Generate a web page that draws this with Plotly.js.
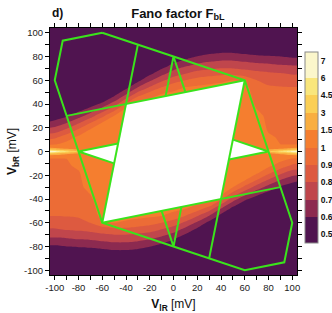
<!DOCTYPE html>
<html>
<head>
<meta charset="utf-8">
<script src="https://cdn.plot.ly/plotly-3.0.1.min.js"></script>
<style>html,body{margin:0;padding:0;background:#fff;}#chart{width:332px;height:313px;}</style>
</head>
<body>
<div id="chart"></div>
<script>
// Grid of bias voltages (mV)
var vlR = [-104,-100,-90,-80,-70,-60,-50,-40,-30,-20,-10,0,10,20,30,40,50,60,70,80,90,100,104];
var vbR = [-104,-84,-78,-72,-66,-60,-54,-48,-42,-36,-30,-24,-18,-12,-6,-3,-1.5,0,1.5,3,6,12,18,24,30,36,42,48,54,60,66,72,78,84,104];

// Fano factor F_bL (rows follow vbR, columns follow vlR)
var fano = [
 [0.52,0.52,0.52,0.52,0.52,0.52,0.52,0.52,0.52,0.52,0.52,0.52,0.52,0.52,0.52,0.52,0.52,0.52,0.52,0.52,0.52,0.52,0.52],
 [0.525,0.525,0.54,0.548,0.555,0.57,0.585,0.585,0.57,0.54,0.52,0.52,0.52,0.52,0.52,0.52,0.52,0.52,0.52,0.52,0.52,0.52,0.52],
 [0.615,0.615,0.629,0.638,0.646,0.662,0.677,0.677,0.662,0.633,0.593,0.54,0.52,0.52,0.52,0.52,0.52,0.52,0.52,0.52,0.52,0.52,0.52],
 [0.707,0.707,0.714,0.729,0.738,0.754,0.769,0.769,0.754,0.733,0.692,0.636,0.555,0.52,0.52,0.52,0.52,0.52,0.52,0.52,0.52,0.52,0.52],
 [0.787,0.787,0.801,0.811,0.825,0.846,0.862,0.867,0.85,0.833,0.792,0.745,0.66,0.57,0.52,0.52,0.52,0.52,0.52,0.52,0.52,0.52,0.52],
 [0.85,0.85,0.863,0.878,0.901,0.971,1.005,0.98,0.96,0.936,0.901,0.855,0.78,0.68,0.57,0.52,0.52,0.52,0.52,0.52,0.52,0.52,0.52],
 [0.902,0.902,0.905,0.909,0.925,1.2,1.24,1.2,1.16,1.1,1.02,0.964,0.901,0.811,0.701,0.57,0.52,0.52,0.52,0.52,0.52,0.52,0.52],
 [0.914,0.914,0.917,0.923,0.95,1.3,1.3,1.3,1.3,1.3,1.26,1.16,1.04,0.95,0.857,0.701,0.57,0.52,0.52,0.52,0.52,0.52,0.52],
 [0.926,0.926,0.929,0.936,0.975,1.3,1.3,1.3,1.3,1.3,1.3,1.3,1.28,1.16,1.06,0.867,0.701,0.585,0.525,0.52,0.52,0.52,0.52],
 [0.937,0.937,0.941,0.95,1.003,1.3,1.3,1.3,1.3,1.3,1.3,1.3,1.3,1.3,1.3,1.08,0.85,0.725,0.622,0.555,0.52,0.52,0.52],
 [0.949,0.949,0.952,0.964,1.24,1.3,1.3,1.3,1.3,1.3,1.3,1.3,1.3,1.3,1.3,1.3,1.005,0.875,0.756,0.66,0.585,0.54,0.525],
 [0.961,0.961,0.964,0.977,1.3,1.3,1.3,1.3,1.3,1.3,1.3,1.3,1.3,1.3,1.3,1.3,1.24,1.04,0.901,0.789,0.701,0.636,0.62],
 [0.973,0.973,0.976,0.991,1.3,1.3,1.3,1.3,1.3,1.3,1.3,1.3,1.3,1.3,1.3,1.3,1.3,1.28,1.08,0.922,0.822,0.75,0.74],
 [0.985,0.985,0.988,1.08,1.3,1.3,1.3,1.3,1.3,1.3,1.3,1.3,1.3,1.3,1.3,1.3,1.3,1.3,1.3,1.1,0.956,0.878,0.867],
 [0.996,0.997,1.002,1.3,1.3,1.3,1.3,1.3,1.3,1.3,1.3,1.3,1.3,1.3,1.3,1.3,1.3,1.3,1.3,1.3,1.16,0.995,0.99],
 [1.6,1.52,1.25,1.2,1.3,1.3,1.3,1.3,1.3,1.3,1.3,1.3,1.3,1.3,1.3,1.3,1.3,1.3,1.3,1.2,1.25,1.52,1.6],
 [3.6,3.3,2.2,1.52,1.3,1.3,1.3,1.3,1.3,1.3,1.3,1.3,1.3,1.3,1.3,1.3,1.3,1.3,1.3,1.52,2.2,3.3,3.6],
 [6.9,6.6,5.0,3.05,1.3,1.3,1.3,1.3,1.3,1.3,1.3,1.3,1.3,1.3,1.3,1.3,1.3,1.3,1.3,3.05,5.0,6.6,6.9],
 [3.6,3.3,2.2,1.52,1.3,1.3,1.3,1.3,1.3,1.3,1.3,1.3,1.3,1.3,1.3,1.3,1.3,1.3,1.3,1.52,2.2,3.3,3.6],
 [1.6,1.52,1.25,1.2,1.3,1.3,1.3,1.3,1.3,1.3,1.3,1.3,1.3,1.3,1.3,1.3,1.3,1.3,1.3,1.2,1.25,1.52,1.6],
 [0.99,0.995,1.16,1.3,1.3,1.3,1.3,1.3,1.3,1.3,1.3,1.3,1.3,1.3,1.3,1.3,1.3,1.3,1.3,1.3,1.002,0.997,0.996],
 [0.867,0.878,0.956,1.1,1.3,1.3,1.3,1.3,1.3,1.3,1.3,1.3,1.3,1.3,1.3,1.3,1.3,1.3,1.3,1.08,0.988,0.985,0.985],
 [0.74,0.75,0.822,0.922,1.08,1.28,1.3,1.3,1.3,1.3,1.3,1.3,1.3,1.3,1.3,1.3,1.3,1.3,1.3,0.991,0.976,0.973,0.973],
 [0.62,0.636,0.701,0.789,0.901,1.04,1.24,1.3,1.3,1.3,1.3,1.3,1.3,1.3,1.3,1.3,1.3,1.3,1.3,0.977,0.964,0.961,0.961],
 [0.525,0.54,0.585,0.66,0.756,0.875,1.005,1.3,1.3,1.3,1.3,1.3,1.3,1.3,1.3,1.3,1.3,1.3,1.24,0.964,0.952,0.949,0.949],
 [0.52,0.52,0.52,0.555,0.622,0.725,0.85,1.08,1.3,1.3,1.3,1.3,1.3,1.3,1.3,1.3,1.3,1.3,1.003,0.95,0.941,0.937,0.937],
 [0.52,0.52,0.52,0.52,0.525,0.585,0.701,0.867,1.06,1.16,1.28,1.3,1.3,1.3,1.3,1.3,1.3,1.3,0.975,0.936,0.929,0.926,0.926],
 [0.52,0.52,0.52,0.52,0.52,0.52,0.57,0.701,0.857,0.95,1.04,1.16,1.26,1.3,1.3,1.3,1.3,1.3,0.95,0.923,0.917,0.914,0.914],
 [0.52,0.52,0.52,0.52,0.52,0.52,0.52,0.57,0.701,0.811,0.901,0.964,1.02,1.1,1.16,1.2,1.24,1.2,0.925,0.909,0.905,0.902,0.902],
 [0.52,0.52,0.52,0.52,0.52,0.52,0.52,0.52,0.57,0.68,0.78,0.855,0.901,0.936,0.96,0.98,1.005,0.971,0.901,0.878,0.863,0.85,0.85],
 [0.52,0.52,0.52,0.52,0.52,0.52,0.52,0.52,0.52,0.57,0.66,0.745,0.792,0.833,0.85,0.867,0.862,0.846,0.825,0.811,0.801,0.787,0.787],
 [0.52,0.52,0.52,0.52,0.52,0.52,0.52,0.52,0.52,0.52,0.555,0.636,0.692,0.733,0.754,0.769,0.769,0.754,0.738,0.729,0.714,0.707,0.707],
 [0.52,0.52,0.52,0.52,0.52,0.52,0.52,0.52,0.52,0.52,0.52,0.54,0.593,0.633,0.662,0.677,0.677,0.662,0.646,0.638,0.629,0.615,0.615],
 [0.52,0.52,0.52,0.52,0.52,0.52,0.52,0.52,0.52,0.52,0.52,0.52,0.52,0.54,0.57,0.585,0.585,0.57,0.555,0.548,0.54,0.525,0.525],
 [0.52,0.52,0.52,0.52,0.52,0.52,0.52,0.52,0.52,0.52,0.52,0.52,0.52,0.52,0.52,0.52,0.52,0.52,0.52,0.52,0.52,0.52,0.52]
];

// Colour bar levels and their colours
var levels = [0.5,0.6,0.7,0.8,0.9,1,1.5,3,4.5,6,7];
var levelLabels = ['0.5','0.6','0.7','0.8','0.9','1','1.5','3','4.5','6','7'];
var bandColors = ['#501450','#8c2a50','#c0464c','#dd5a40','#ec6c36','#f57e2f','#f9ae40','#fbcf55','#f9e67c','#fbf6cb'];

// Blockade (white) regions, vertices in mV
var blockX = [-40,60,40,-60,-40];
var blockY = [40,60,-40,-60,40];
var triLX = [-80,-46.67,-50,-80];
var triLY = [0,6.67,-10,0];
var triRX = [80,46.67,50,80];
var triRY = [0,-6.67,10,0];

// Green resonance lines (polylines, vertices in mV)
var outerX = [-60,-93.3,-100,-80,-60,0,60,93.3,100,80,60,0,-60];
var outerY = [100,93.3,60,0,-60,-80,-100,-93.3,-60,0,60,80,100];
var linesX = [[-90,60],[-60,90],[-30,-60],[30,60],[-46.67,-80,-50],[46.67,80,50],[-6.67,0,10],[6.67,0,-10]];
var linesY = [[30,60],[-60,-30],[90,-60],[-90,60],[6.67,0,-10],[-6.67,0,10],[46.67,80,50],[-46.67,-80,-50]];

var axisTicks = [-100,-80,-60,-40,-20,0,20,40,60,80,100];
var axisTickText = ['-100','-80','-60','-40','-20','0','20','40','60','80','100'];

function toIndex(f){
  for (var k=0;k<levels.length-1;k++){
    if (f < levels[k+1]) return k + (f-levels[k])/(levels[k+1]-levels[k]);
  }
  return levels.length-1;
}
var zIdx = fano.map(function(r){return r.map(toIndex);});
var nb = bandColors.length + 1;
var cscale = [[0,bandColors[0]]];
for (var i=0;i<bandColors.length;i++) cscale.push([(i+1)/nb, bandColors[i]]);
cscale.push([1,bandColors[bandColors.length-1]]);

var traces = [{
  type:'contour', x:vlR, y:vbR, z:zIdx,
  colorscale:cscale, autocontour:false,
  contours:{start:0,end:10,size:1,coloring:'fill',showlines:false},
  line:{width:0,smoothing:0.6},
  hoverinfo:'skip',
  colorbar:{
    tickvals:[0,1,2,3,4,5,6,7,8,9,10], ticktext:levelLabels,
    x:1.032, xanchor:'left', xpad:0, ypad:0, thickness:13,
    len:0.773, lenmode:'fraction', y:0.516, yanchor:'middle',
    outlinewidth:1, outlinecolor:'#8a8a8a', ticks:'', ticklen:0,
    tickfont:{size:8.5, color:'#111', weight:'bold'}
  }
}];
function poly(xs,ys,opts){ var t={type:'scatter',mode:'lines',x:xs,y:ys,hoverinfo:'skip',showlegend:false}; for (var k in opts) t[k]=opts[k]; return t; }
[[blockX,blockY],[triLX,triLY],[triRX,triRY]].forEach(function(p){
  traces.push(poly(p[0],p[1],{fill:'toself',fillcolor:'#ffffff',line:{width:0,color:'rgba(0,0,0,0)'}}));
});
var green = '#3ae31c';
traces.push(poly(outerX,outerY,{line:{color:green,width:2}}));
for (var j=0;j<linesX.length;j++) traces.push(poly(linesX[j],linesY[j],{line:{color:green,width:2}}));

var axBase = {
  range:[-104,104], tickmode:'array', tickvals:axisTicks, ticktext:axisTickText,
  ticks:'outside', ticklen:4, tickwidth:1, tickcolor:'#000',
  minor:{tickmode:'linear', tick0:0, dtick:10, ticks:'outside', ticklen:4, tickwidth:1, tickcolor:'#000', showgrid:false},
  showline:true, linecolor:'#000', linewidth:1, mirror:'ticks',
  showgrid:false, zeroline:false, tickfont:{size:9.5,color:'#222'}, automargin:false
};
var xa = Object.assign({}, axBase, {title:{text:'<b>V<sub>lR</sub></b> [mV]', font:{size:12,color:'#111'}, standoff:9}});
var ya = Object.assign({}, axBase, {title:{text:'<b>V<sub>bR</sub></b> [mV]', font:{size:12,color:'#111'}, standoff:4}});

var layout = {
  width:332, height:313,
  margin:{l:50,r:35,t:28,b:38,pad:0,autoexpand:false},
  paper_bgcolor:'#fff', plot_bgcolor:'#fff',
  font:{family:'"Liberation Sans", Arial, sans-serif', size:10, color:'#222'},
  showlegend:false,
  title:{text:'<b>Fano factor F<sub>bL</sub></b>', x:0.536, xanchor:'center', xref:'container', y:0.958, yanchor:'middle', yref:'container', font:{size:13,color:'#111'}},
  xaxis:xa, yaxis:ya,
  annotations:[{text:'<b>d)</b>', xref:'paper', yref:'paper', x:0.0, y:1.061, xanchor:'left', yanchor:'middle', showarrow:false, font:{size:12,color:'#111'}}]
};
Plotly.newPlot('chart', traces, layout, {displayModeBar:false, staticPlot:true});
</script>
</body>
</html>
